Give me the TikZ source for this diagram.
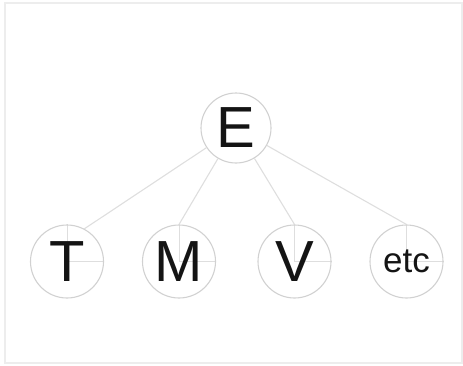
\documentclass[tikz,border=0pt]{standalone}
\usepackage{fontspec}
\setmainfont{Liberation Sans}
\usetikzlibrary{backgrounds}
\begin{document}
\begin{tikzpicture}[x=1pt,y=-1pt,
  circ/.style={circle,draw=black!18,line width=1.1pt,inner sep=0pt,text=black!92},
  big/.style={font=\fontsize{58}{58}\selectfont},
  small/.style={font=\fontsize{35}{35}\selectfont},
  conn/.style={draw=black!13,line width=1.1pt},
  tick/.style={draw=black!13,line width=0.8pt}]
\useasboundingbox (0,0) rectangle (463,365);
\draw[draw=black!7,line width=1.5pt] (5,3) rectangle (462,363);
\node[circ,big,minimum size=70pt] (E) at (236,128) {E};
\node[circ,big,minimum size=73pt] (T) at (67,261.5) {T};
\node[circ,big,minimum size=73pt] (M) at (179,261.5) {M};
\node[circ,big,minimum size=73pt] (V) at (294.5,261.5) {V};
\node[circ,small,minimum size=73pt] (etc) at (406.5,261.5) {etc};
\begin{pgfonlayer}{background}
\foreach \n in {T,M,V,etc}{
  \draw[tick] (\n.north) -- (\n.center) -- (\n.east);
}
\end{pgfonlayer}
\draw[conn] (E) -- (T.62);
\draw[conn] (E) -- (M.north);
\draw[conn] (E) -- (V.north);
\draw[conn] (E) -- (etc.north);
\end{tikzpicture}
\end{document}
